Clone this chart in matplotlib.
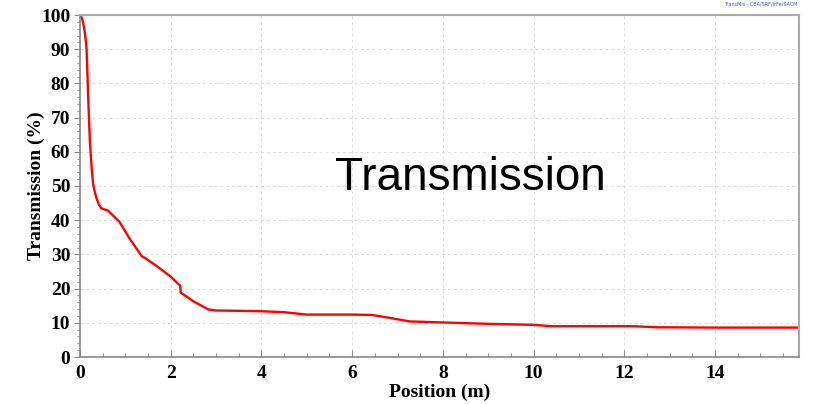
import matplotlib
matplotlib.use("Agg")
import matplotlib.pyplot as plt
from matplotlib.ticker import MultipleLocator

position = [0.0, 0.02, 0.05, 0.07, 0.09, 0.12, 0.145, 0.16, 0.18, 0.20, 0.22, 0.26, 0.29, 0.33, 0.37,
            0.42, 0.47, 0.55, 0.62, 0.68, 0.87, 1.10, 1.36, 1.45, 1.70, 2.00, 2.21, 2.22, 2.50,
            2.83, 3.00, 3.50, 3.97, 4.50, 5.00, 6.00, 6.43, 6.80, 7.27, 8.00, 9.00, 10.00,
            10.40, 12.20, 12.70, 14.00, 15.85]
transmission = [100.0, 99.7, 98.8, 97.6, 96.3, 93.5, 90.0, 84.0, 76.0, 69.0, 62.5, 54.7, 50.5, 48.0, 46.2,
                44.5, 43.5, 43.1, 42.8, 42.0, 39.5, 34.5, 29.5, 28.8, 26.5, 23.5, 20.8, 18.8, 16.3,
                13.9, 13.6, 13.5, 13.4, 13.1, 12.4, 12.4, 12.3, 11.5, 10.4, 10.1, 9.7, 9.4,
                9.0, 9.0, 8.7, 8.6, 8.6]

xticks = [0, 2, 4, 6, 8, 10, 12, 14]
yticks = [0, 10, 20, 30, 40, 50, 60, 70, 80, 90, 100]

fig = plt.figure(figsize=(8.15, 4.04), dpi=100)
ax = fig.add_axes([80/815, 47/404, 719/815, 342/404])

ax.plot(position, transmission, color="#ff0000", lw=1.7, solid_joinstyle="round")

ax.set_xlim(0, 15.85)
ax.set_ylim(0, 100)
ax.set_xticks(xticks)
ax.set_yticks(yticks)
ax.xaxis.set_minor_locator(MultipleLocator(0.5))
ax.yaxis.set_minor_locator(MultipleLocator(2))
ax.grid(True, which="major", color="#dddddd", linestyle=(0, (3, 3)), lw=0.7)

serif = "Liberation Serif"
for lab in ax.get_xticklabels() + ax.get_yticklabels():
    lab.set_fontfamily(serif)
    lab.set_fontweight("bold")
    lab.set_fontsize(14)

ax.tick_params(axis="x", which="both", direction="in", colors="#888888", labelcolor="black", pad=6)
ax.tick_params(axis="x", which="major", length=5)
ax.tick_params(axis="x", which="minor", length=3)
ax.tick_params(axis="y", which="both", direction="out", colors="#888888", labelcolor="black", pad=3)
ax.tick_params(axis="y", which="major", length=4)
ax.tick_params(axis="y", which="minor", length=2)

for side in ["left", "bottom"]:
    ax.spines[side].set_color("#888888")
    ax.spines[side].set_linewidth(1.2)
for side in ["top", "right"]:
    ax.spines[side].set_color("#aaaaaa")
    ax.spines[side].set_linewidth(1.5)

ax.set_xlabel("Position (m)", fontfamily=serif, fontweight="bold", fontsize=14, labelpad=1)
ax.set_ylabel("Transmission (%)", fontfamily=serif, fontweight="bold", fontsize=14, labelpad=-3)

fig.text(470/815, 1 - 178/404, "Transmission", fontfamily="Liberation Sans", fontsize=33,
         ha="center", va="center", color="black")
fig.text(797/815, 1 - 4/404, "TransMis - CBA/SRF/IrFe/SACM", fontsize=3.5, color="#3355cc",
         ha="right", va="center")

fig.savefig("out.png", dpi=100)
